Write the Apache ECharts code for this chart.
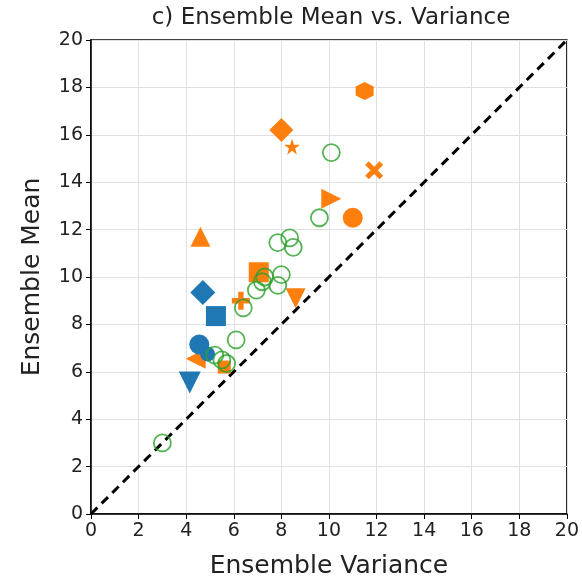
<!DOCTYPE html>
<html><head><meta charset="utf-8">
<script src="https://cdn.jsdelivr.net/npm/echarts@6/dist/echarts.min.js"></script>
<style>html,body{margin:0;padding:0;background:#fff}#c{width:582px;height:588px}</style>
</head><body><div id="c"></div>
<script>
// orange markers (one shape each)
const orangeX = [11.5, 8.0, 8.45, 11.9, 10.1, 11.0, 4.6, 7.05, 6.3, 8.6, 4.4, 5.6]
const orangeY = [17.85, 16.2, 15.5, 14.5, 13.3, 12.5, 11.7, 10.2, 9.0, 9.1, 6.55, 6.2]
const orangeShape = ['hex', 'diamond', 'star', 'x', 'right', 'circle', 'up', 'square', 'plus', 'down', 'left', 'square']
const orangeSize = [18, 24, 16, 18, 20, 20, 20, 20, 18, 20, 20, 13]

const blueX = [4.7, 5.25, 4.55, 4.9, 4.15]
const blueY = [9.35, 8.35, 7.15, 6.75, 5.55]
const blueShape = ['diamond', 'square', 'circle', 'circle', 'down']
const blueSize = [25, 20, 20, 15, 22]

const greenX = [3.0, 6.1, 6.4, 5.2, 5.5, 5.7, 6.95, 7.2, 7.3, 7.85, 8.0, 7.85, 8.35, 8.5, 9.6, 10.1]
const greenY = [3.0, 7.35, 8.7, 6.7, 6.5, 6.35, 9.45, 9.8, 10.0, 9.65, 10.1, 11.45, 11.65, 11.25, 12.5, 15.25]

const ticks = [0, 2, 4, 6, 8, 10, 12, 14, 16, 18, 20]

const shapes = {
  hex: 'path://M0,-1L0.866,-0.5L0.866,0.5L0,1L-0.866,0.5L-0.866,-0.5Z',
  diamond: 'diamond',
  star: 'path://M0,-1L0.2245,-0.309L0.951,-0.309L0.363,0.118L0.588,0.809L0,0.382L-0.588,0.809L-0.363,0.118L-0.951,-0.309L-0.2245,-0.309Z',
  x: 'path://M-1,-0.6L-0.6,-1L0,-0.4L0.6,-1L1,-0.6L0.4,0L1,0.6L0.6,1L0,0.4L-0.6,1L-1,0.6L-0.4,0Z',
  plus: 'path://M-0.3,-1L0.3,-1L0.3,-0.3L1,-0.3L1,0.3L0.3,0.3L0.3,1L-0.3,1L-0.3,0.3L-1,0.3L-1,-0.3L-0.3,-0.3Z',
  up: 'triangle', square: 'rect', circle: 'circle',
  right: 'path://M-1,-1L1,0L-1,1Z', left: 'path://M1,-1L-1,0L1,1Z', down: 'path://M-1,-1L1,-1L0,1Z'
}

const series = [{
  type: 'line', data: [[0, 0], [20, 20]], symbol: 'none', silent: true, z: 1,
  lineStyle: { color: '#000', width: 3, type: [9, 6] }
}]
orangeX.forEach((x, i) => series.push({
  type: 'scatter', data: [[x, orangeY[i]]], symbol: shapes[orangeShape[i]],
  symbolSize: orangeSize[i], itemStyle: { color: '#ff7f0e', opacity: 1 }, z: 3
}))
blueX.forEach((x, i) => series.push({
  type: 'scatter', data: [[x, blueY[i]]], symbol: shapes[blueShape[i]],
  symbolSize: blueSize[i], itemStyle: { color: '#1f77b4', opacity: 1 }, z: 3
}))
series.push({
  type: 'scatter', data: greenX.map((x, i) => [x, greenY[i]]), symbol: 'circle', symbolSize: 17, z: 4,
  itemStyle: { color: 'rgba(0,0,0,0)', borderColor: '#2ca02c', borderWidth: 1.8 }
})

const axisCommon = {
  type: 'value', min: 0, max: 20, interval: 2, nameLocation: 'middle',
  nameTextStyle: { fontSize: 25, color: '#222', fontFamily: 'DejaVu Sans' },
  axisLine: { show: true, onZero: false, lineStyle: { color: '#000', width: 1.5 } },
  axisTick: { show: true, length: 5, lineStyle: { color: '#000' } },
  axisLabel: { fontSize: 19, color: '#222', fontFamily: 'DejaVu Sans', formatter: v => ticks.includes(v) ? String(v) : '' },
  splitLine: { show: true, lineStyle: { color: '#e0e0e0', width: 1 } }
}

const chart = echarts.init(document.getElementById('c'))
chart.setOption({
  animation: false,
  title: { text: 'c) Ensemble Mean vs. Variance', left: 326, top: 2, textAlign: 'center',
    textStyle: { fontSize: 23, fontWeight: 'normal', color: '#222', fontFamily: 'DejaVu Sans' } },
  grid: { left: 91, right: 15, top: 40, bottom: 74, show: true, borderColor: '#000', borderWidth: 1.5 },
  xAxis: Object.assign({}, axisCommon, { name: 'Ensemble Variance', nameGap: 40 }),
  yAxis: Object.assign({}, axisCommon, { name: 'Ensemble Mean', nameGap: 46 }),
  series
})
</script></body></html>
